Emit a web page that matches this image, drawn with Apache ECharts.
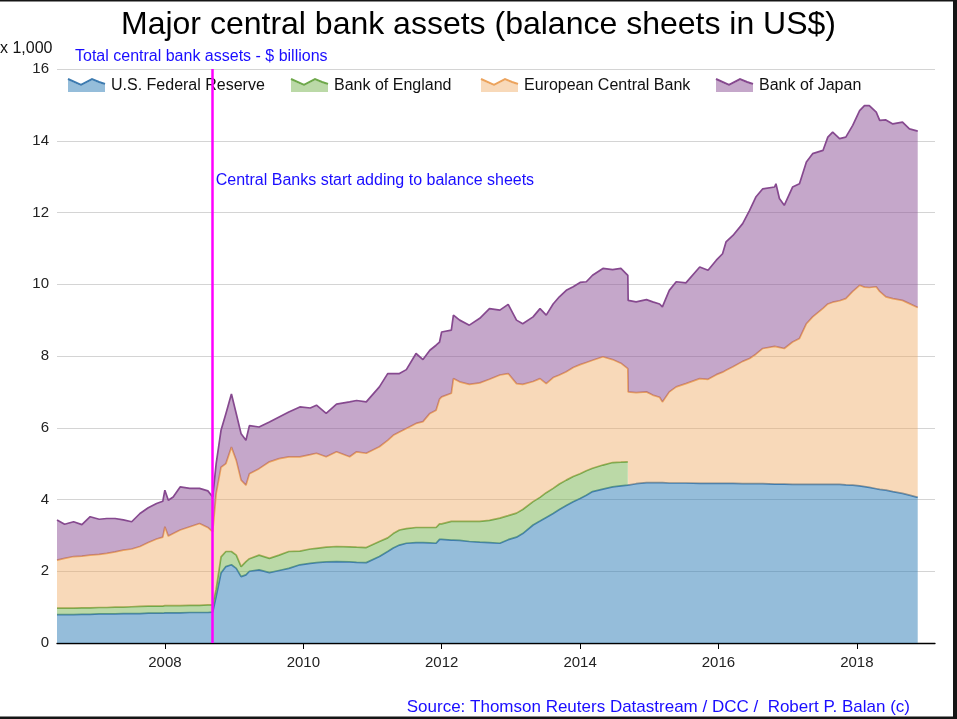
<!DOCTYPE html>
<html>
<head>
<meta charset="utf-8">
<script src="https://cdn.jsdelivr.net/npm/echarts@6/dist/echarts.min.js"></script>
<style>
  html, body { margin: 0; padding: 0; background: #fff; }
  #chart { width: 957px; height: 719px; }
</style>
</head>
<body>
<div id="chart"></div>
<script>
// dates as decimal years
const years = [
  2006.44, 2006.55, 2006.68, 2006.80, 2006.92, 2007.05, 2007.16, 2007.28, 2007.40, 2007.52,
  2007.64, 2007.76, 2007.88, 2007.97, 2008.00, 2008.05, 2008.12, 2008.22, 2008.36, 2008.50,
  2008.62, 2008.69, 2008.74, 2008.81, 2008.88, 2008.96, 2009.03, 2009.10, 2009.17, 2009.22,
  2009.36, 2009.51, 2009.65, 2009.79, 2009.95, 2010.10, 2010.19, 2010.33, 2010.48, 2010.67,
  2010.77, 2010.91, 2011.10, 2011.22, 2011.30, 2011.39, 2011.49, 2011.63, 2011.73, 2011.83,
  2011.92, 2011.97, 2012.00, 2012.14, 2012.17, 2012.26, 2012.40, 2012.55, 2012.69, 2012.84,
  2012.96, 2013.08, 2013.17, 2013.32, 2013.42, 2013.51, 2013.61, 2013.70, 2013.80, 2013.90,
  2014.00, 2014.09, 2014.18, 2014.33, 2014.47, 2014.59, 2014.69, 2014.695, 2014.81, 2014.96,
  2015.05, 2015.15, 2015.19, 2015.29, 2015.39, 2015.53, 2015.73, 2015.85, 2015.97, 2016.06,
  2016.11, 2016.21, 2016.35, 2016.45, 2016.54, 2016.64, 2016.81, 2016.83, 2016.88, 2016.95,
  2017.07, 2017.17, 2017.27, 2017.36, 2017.51, 2017.58, 2017.65, 2017.75, 2017.84, 2017.94,
  2018.04, 2018.11, 2018.18, 2018.28, 2018.33, 2018.42, 2018.52, 2018.66, 2018.76, 2018.88
];

// assets per bank, US$ trillions (x 1,000 billions)
const fedValues = [
  0.79, 0.79, 0.79, 0.80, 0.80, 0.81, 0.81, 0.81, 0.82, 0.82,
  0.82, 0.83, 0.83, 0.83, 0.84, 0.84, 0.84, 0.84, 0.85, 0.85,
  0.85, 0.86, 1.30, 1.95, 2.13, 2.18, 2.08, 1.85, 1.90, 2.00,
  2.04, 1.96, 2.02, 2.08, 2.18, 2.22, 2.24, 2.26, 2.27, 2.26,
  2.25, 2.24, 2.41, 2.55, 2.65, 2.73, 2.78, 2.80, 2.80, 2.79,
  2.78, 2.89, 2.89, 2.87, 2.87, 2.86, 2.83, 2.81, 2.80, 2.78,
  2.88, 2.95, 3.05, 3.29, 3.40, 3.50, 3.61, 3.72, 3.83, 3.94,
  4.03, 4.12, 4.22, 4.29, 4.35, 4.38, 4.40, 4.40, 4.44, 4.47,
  4.47, 4.47, 4.47, 4.46, 4.46, 4.46, 4.45, 4.45, 4.45, 4.45,
  4.45, 4.45, 4.44, 4.44, 4.44, 4.44, 4.43, 4.43, 4.43, 4.43,
  4.42, 4.42, 4.42, 4.42, 4.42, 4.42, 4.42, 4.42, 4.41, 4.40,
  4.38, 4.36, 4.34, 4.30, 4.28, 4.26, 4.22, 4.17, 4.12, 4.06
];
const boeValues = [
  0.18, 0.18, 0.18, 0.18, 0.18, 0.18, 0.18, 0.19, 0.18, 0.19,
  0.20, 0.20, 0.20, 0.20, 0.20, 0.20, 0.20, 0.20, 0.20, 0.20,
  0.21, 0.20, 0.20, 0.45, 0.42, 0.37, 0.37, 0.28, 0.37, 0.35,
  0.41, 0.40, 0.43, 0.47, 0.38, 0.40, 0.40, 0.41, 0.42, 0.42,
  0.42, 0.42, 0.42, 0.38, 0.40, 0.42, 0.41, 0.42, 0.42, 0.43,
  0.44, 0.43, 0.43, 0.52, 0.52, 0.53, 0.56, 0.58, 0.62, 0.70,
  0.67, 0.67, 0.67, 0.65, 0.66, 0.69, 0.70, 0.71, 0.71, 0.70,
  0.69, 0.68, 0.65, 0.67, 0.68, 0.66, 0.65, null, null, null,
  null, null, null, null, null, null, null, null, null, null,
  null, null, null, null, null, null, null, null, null, null,
  null, null, null, null, null, null, null, null, null, null,
  null, null, null, null, null, null, null, null, null, null
];
const ecbValues = [
  1.34, 1.39, 1.44, 1.44, 1.47, 1.48, 1.51, 1.54, 1.59, 1.61,
  1.67, 1.77, 1.87, 1.92, 2.20, 1.94, 2.01, 2.11, 2.19, 2.28,
  2.16, 2.04, 2.67, 2.50, 2.45, 2.91, 2.64, 2.41, 2.13, 2.37,
  2.41, 2.69, 2.69, 2.64, 2.63, 2.63, 2.65, 2.52, 2.64, 2.51,
  2.66, 2.63, 2.64, 2.72, 2.74, 2.73, 2.79, 2.90, 2.95, 3.18,
  3.27, 3.48, 3.54, 3.57, 3.98, 3.89, 3.82, 3.86, 3.93, 3.99,
  3.96, 3.61, 3.49, 3.35, 3.31, 3.04, 3.09, 3.04, 3.02, 3.04,
  3.04, 3.02, 3.01, 3.02, 2.87, 2.76, 2.60, 2.60, 2.54, 2.53,
  2.44, 2.38, 2.25, 2.54, 2.68, 2.77, 2.92, 2.90, 3.03, 3.10,
  3.15, 3.25, 3.41, 3.49, 3.61, 3.77, 3.84, 3.84, 3.81, 3.78,
  3.97, 4.07, 4.48, 4.67, 4.91, 5.03, 5.08, 5.12, 5.19, 5.40,
  5.59, 5.56, 5.57, 5.63, 5.52, 5.39, 5.38, 5.38, 5.34, 5.29
];
const bojValues = [
  1.12, 0.95, 0.97, 0.88, 1.07, 0.98, 0.97, 0.93, 0.84, 0.76,
  0.92, 0.97, 0.99, 1.00, 1.02, 1.00, 1.02, 1.20, 1.07, 0.98,
  1.02, 0.97, 0.83, 1.03, 1.39, 1.48, 1.30, 1.29, 1.25, 1.34,
  1.16, 1.11, 1.16, 1.25, 1.39, 1.30, 1.34, 1.21, 1.33, 1.53,
  1.43, 1.43, 1.67, 1.86, 1.72, 1.63, 1.64, 1.95, 1.73, 1.76,
  1.81, 1.59, 1.81, 1.76, 1.77, 1.72, 1.65, 1.80, 1.97, 1.81,
  1.93, 1.77, 1.69, 1.80, 1.95, 1.91, 2.05, 2.18, 2.27, 2.25,
  2.29, 2.25, 2.37, 2.46, 2.51, 2.64, 2.60, 2.55, 2.53, 2.57,
  2.60, 2.60, 2.65, 2.83, 2.93, 2.81, 3.11, 3.04, 3.19, 3.30,
  3.58, 3.66, 3.84, 4.13, 4.38, 4.45, 4.44, 4.53, 4.15, 3.99,
  4.32, 4.31, 4.51, 4.55, 4.40, 4.65, 4.74, 4.52, 4.50, 4.63,
  4.87, 5.06, 5.07, 4.87, 4.77, 4.93, 4.87, 4.97, 4.87, 4.92
];

const seriesNames = ['U.S. Federal Reserve', 'Bank of England', 'European Central Bank', 'Bank of Japan'];
const lineColors = ['#3d7bb0', '#6ea84a', '#eca35c', '#86498f'];
const fillColors = ['rgba(44,123,182,0.5)', 'rgba(120,180,80,0.5)', 'rgba(240,170,100,0.45)', 'rgba(140,80,150,0.5)'];
const xTickYears = [2008, 2010, 2012, 2014, 2016, 2018];
const xRange = [2006.44, 2019.13];
const crisisYear = 2008.69;
const crisisLabelY = 12.88;

// decimal year -> UTC timestamp
function toTime(y) {
  const yr = Math.floor(y);
  const a = Date.UTC(yr, 0, 1), b = Date.UTC(yr + 1, 0, 1);
  return a + (y - yr) * (b - a);
}

const font = 'Liberation Sans, Arial, sans-serif';
const blue = '#1a0dff';
const chart = echarts.init(document.getElementById('chart'));

const allValues = [fedValues, boeValues, ecbValues, bojValues];
const series = allValues.map(function (vals, k) {
  return {
    name: seriesNames[k],
    type: 'line',
    stack: 'total',
    xAxisIndex: 0,
    symbol: 'none',
    showSymbol: false,
    z: 2 + k,
    lineStyle: { color: lineColors[k], width: 1.7 },
    itemStyle: { color: lineColors[k] },
    areaStyle: { color: fillColors[k], opacity: 1 },
    emphasis: { disabled: true },
    data: years.map(function (y, i) {
      return [toTime(y), vals[i] == null ? '-' : vals[i]];
    })
  };
});

// crisis marker on the Fed series
series[0].markLine = {
  silent: true,
  symbol: ['none', 'none'],
  z: 20,
  label: { show: false },
  lineStyle: { color: '#ff00ff', width: 2.5, type: 'solid' },
  data: [{ xAxis: toTime(crisisYear) }]
};
series[0].markPoint = {
  silent: true,
  z: 20,
  symbol: 'circle',
  symbolSize: 0,
  data: [{
    coord: [toTime(crisisYear), crisisLabelY],
    label: {
      show: true, position: 'right', distance: 3,
      formatter: 'Central Banks start adding to balance sheets',
      color: blue, fontSize: 16, fontFamily: font
    }
  }]
};

// legend icon: small area with a jagged top
const iconPath = 'path://M0,1 L13,7 L24,1 L31,4 L37,6 L37,13 L0,13 Z';
const legendLeft = [68, 291, 481, 716];
const legendTop = 78;
const legends = seriesNames.map(function (n, k) {
  return {
    left: legendLeft[k], top: legendTop, padding: 0,
    itemWidth: 37, itemHeight: 13, itemGap: 0,
    textStyle: { fontSize: 16, color: '#111', fontFamily: font, padding: [0, 0, 0, 1] },
    selectedMode: false,
    data: [{ name: n, icon: iconPath, itemStyle: { color: fillColors[k], borderWidth: 0 } }]
  };
});
const legendLines = seriesNames.map(function (n, k) {
  const L = legendLeft[k], T = legendTop;
  return {
    type: 'polyline', silent: true, z: 100,
    shape: { points: [[L, T + 1], [L + 13, T + 7], [L + 24, T + 1], [L + 31, T + 4], [L + 37, T + 6]] },
    style: { stroke: lineColors[k], lineWidth: 2, fill: null }
  };
});

const yearTickStyle = {
  customValues: xTickYears,
  length: 6, lineStyle: { color: '#000' }
};

chart.setOption({
  animation: false,
  backgroundColor: '#fff',
  textStyle: { fontFamily: font },
  title: {
    text: 'Major central bank assets (balance sheets in US$)',
    left: 'center', top: 4,
    textStyle: { fontSize: 32, fontWeight: 'normal', color: '#000', fontFamily: font }
  },
  legend: legends,
  grid: { left: 57, right: 22, top: 69, bottom: 76 },
  xAxis: [{
    // time axis that carries the data
    type: 'time',
    position: 'bottom',
    min: toTime(xRange[0]),
    max: toTime(xRange[1]),
    splitLine: { show: false },
    axisLine: { show: false },
    axisTick: { show: false },
    axisLabel: { show: false }
  }, {
    // same span in decimal years, only for ticks and labels
    type: 'value',
    position: 'bottom',
    min: xRange[0],
    max: xRange[1],
    splitLine: { show: false },
    axisLine: { onZero: false, lineStyle: { color: '#000', width: 1.3 } },
    axisTick: yearTickStyle,
    axisLabel: {
      customValues: xTickYears,
      formatter: function (v) { return String(Math.round(v)); },
      fontSize: 15, color: '#222', margin: 12, fontFamily: font
    }
  }],
  yAxis: {
    type: 'value',
    min: 0, max: 16, interval: 2,
    axisLine: { show: false },
    axisTick: { show: false },
    axisLabel: { fontSize: 15, color: '#222', margin: 8, fontFamily: font },
    splitLine: { lineStyle: { color: '#d4d4d4', width: 1 } }
  },
  graphic: [
    { type: 'text', left: 0, top: 41, silent: true,
      style: { text: 'x 1,000', fontSize: 16, fill: '#111', fontFamily: font } },
    { type: 'text', left: 75, top: 49, silent: true,
      style: { text: 'Total central bank assets - $ billions', fontSize: 16, fill: blue, fontFamily: font } },
    { type: 'text', right: 47, top: 699, silent: true,
      style: { text: 'Source: Thomson Reuters Datastream / DCC /  Robert P. Balan (c)', fontSize: 17, fill: blue, fontFamily: font } },
    { type: 'rect', left: 0, top: 0, silent: true, shape: { width: 957, height: 1.5 }, style: { fill: '#151515' } },
    { type: 'rect', left: 953, top: 0, silent: true, shape: { width: 4, height: 719 }, style: { fill: '#151515' } },
    { type: 'rect', left: 0, top: 716.5, silent: true, shape: { width: 957, height: 2.5 }, style: { fill: '#151515' } }
  ].concat(legendLines),
  series: series
});
</script>
</body>
</html>
